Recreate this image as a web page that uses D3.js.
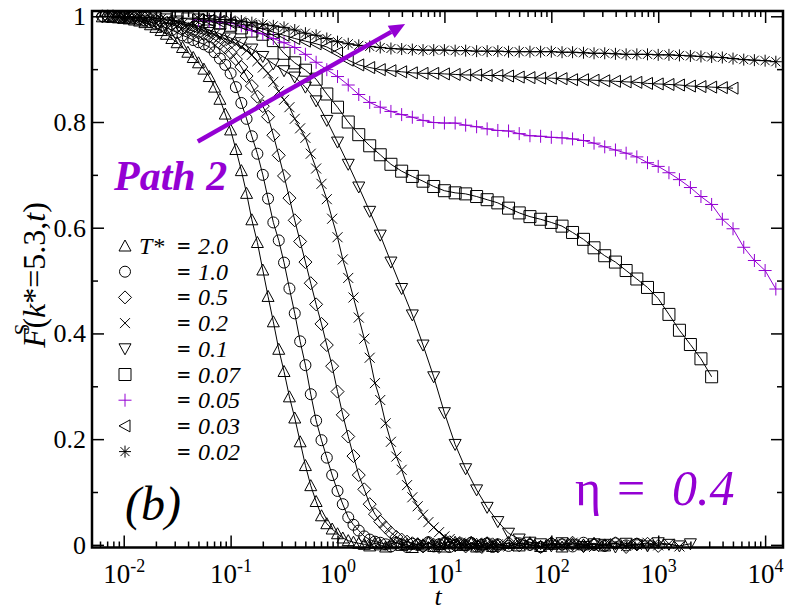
<!DOCTYPE html>
<html>
<head>
<meta charset="utf-8">
<script src="https://cdn.jsdelivr.net/npm/d3@7"></script>
<style>
  body { margin: 0; background: #fff; }
</style>
</head>
<body>
<script>
// sampling times: fine grid (0.05 decade) up to t~30, coarse grid (0.1 decade), long-time tail
const tFine = [0.00501, 0.00562, 0.00631, 0.00708, 0.00794, 0.00891, 0.0100, 0.0112, 0.0126, 0.0141,
  0.0158, 0.0178, 0.0200, 0.0224, 0.0251, 0.0282, 0.0316, 0.0355, 0.0398, 0.0447,
  0.0501, 0.0562, 0.0631, 0.0708, 0.0794, 0.0891, 0.100, 0.112, 0.126, 0.141,
  0.158, 0.178, 0.200, 0.224, 0.251, 0.282, 0.316, 0.355, 0.398, 0.447,
  0.501, 0.562, 0.631, 0.708, 0.794, 0.891, 1.00, 1.12, 1.26, 1.41,
  1.58, 1.78, 2.00, 2.24, 2.51, 2.82, 3.16, 3.55, 3.98, 4.47,
  5.01, 5.62, 6.31, 7.08, 7.94, 8.91, 10.0, 11.2, 12.6, 14.1,
  15.8, 17.8, 20.0, 22.4, 25.1, 28.2, 31.6];
const tCoarse = [0.00501, 0.00631, 0.00794, 0.0100, 0.0126, 0.0158, 0.0200, 0.0251, 0.0316, 0.0398,
  0.0501, 0.0631, 0.0794, 0.100, 0.126, 0.158, 0.200, 0.251, 0.316, 0.398,
  0.501, 0.631, 0.794, 1.00, 1.26, 1.58, 2.00, 2.51, 3.16, 3.98,
  5.01, 6.31, 7.94, 10.0, 12.6, 15.8, 20.0, 25.1, 31.6];
const tLong = [39.8, 50.1, 63.1, 79.4, 100, 126, 158, 200, 251, 316,
  398, 501, 631, 794, 1000, 1260, 1580, 2000, 2510, 3160,
  3980, 5010, 6310, 7940, 10000, 12600];

// F^S(k*=5.3,t) for each temperature
const F20 = [0.999, 0.999, 0.998, 0.997, 0.996, 0.995, 0.993, 0.991, 0.988, 0.984,
  0.979, 0.973, 0.966, 0.958, 0.950, 0.941, 0.932, 0.922, 0.912, 0.900,
  0.886, 0.866, 0.843, 0.815, 0.785, 0.748, 0.708, 0.665, 0.615, 0.572,
  0.520, 0.470, 0.422, 0.370, 0.328, 0.280, 0.240, 0.195, 0.150, 0.112,
  0.082, 0.055, 0.040, 0.030, 0.021, 0.013, 0.008, 0.005, 0.003, 0.001,
  -0.002, 0.003, 0.000, -0.004, 0.002, 0.005, -0.001, 0.001, -0.005, 0.002,
  0.000, 0.004, -0.003, 0.001, -0.004, 0.002, 0.005, -0.001, 0.000, 0.003,
  -0.004, 0.001, 0.004, -0.003, 0.000,
  0.003, -0.002, 0.004, -0.003, 0.001, -0.004, 0.002, 0.000, 0.003, -0.002];
const F10 = [1.000, 0.999, 0.999, 0.998, 0.998, 0.997, 0.996, 0.994, 0.992, 0.989,
  0.986, 0.982, 0.978, 0.974, 0.969, 0.964, 0.960, 0.955, 0.951, 0.947,
  0.942, 0.932, 0.920, 0.908, 0.892, 0.866, 0.836, 0.806, 0.773, 0.740,
  0.700, 0.655, 0.610, 0.576, 0.534, 0.485, 0.438, 0.385, 0.340, 0.285,
  0.235, 0.198, 0.165, 0.132, 0.102, 0.077, 0.052, 0.038, 0.027, 0.016,
  0.010, 0.006, 0.004, 0.001, -0.003, 0.004, 0.001, -0.004, 0.002, 0.000,
  -0.002, 0.005, -0.003, 0.001, 0.004, -0.004, 0.000, 0.003, -0.001, 0.004,
  -0.003, 0.000, 0.003, -0.004, 0.001,
  -0.002, 0.003, 0.000, -0.004, 0.002, 0.001, -0.003, 0.004, 0.000, -0.002, 0.003, -0.001, 0.002];
const F05 = [1.000, 1.000, 1.000, 0.999, 0.999, 0.998, 0.998, 0.997, 0.996, 0.994,
  0.992, 0.990, 0.987, 0.984, 0.981, 0.978, 0.975, 0.972, 0.969, 0.966,
  0.962, 0.956, 0.949, 0.941, 0.931, 0.919, 0.904, 0.887, 0.868, 0.848,
  0.830, 0.810, 0.775, 0.737, 0.698, 0.656, 0.614, 0.574, 0.535, 0.495,
  0.455, 0.418, 0.378, 0.338, 0.290, 0.246, 0.205, 0.168, 0.132, 0.105,
  0.077, 0.058, 0.044, 0.033, 0.023, 0.015, 0.010, 0.006, 0.003, 0.001,
  -0.003, 0.004, 0.000, -0.004, 0.002, 0.005, -0.001, 0.001, -0.003, 0.004,
  0.000, -0.004, 0.002, 0.001, -0.003,
  0.004, -0.001, 0.001, -0.004, 0.003, 0.000, 0.004, -0.002, 0.001, -0.001, 0.003, -0.004, 0.001, 0.002, -0.002];
const F02 = [1.000, 1.000, 0.999, 0.999, 0.999, 0.998, 0.998, 0.997, 0.996, 0.995,
  0.993, 0.991, 0.989, 0.986, 0.983, 0.980, 0.977, 0.973, 0.969, 0.965,
  0.961, 0.957, 0.953, 0.948, 0.942, 0.935, 0.927, 0.915, 0.903, 0.892,
  0.876, 0.858, 0.842, 0.828, 0.806, 0.788, 0.770, 0.740, 0.712, 0.683,
  0.654, 0.617, 0.582, 0.540, 0.505, 0.468, 0.430, 0.390, 0.354, 0.306,
  0.274, 0.230, 0.195, 0.167, 0.142, 0.113, 0.090, 0.073, 0.057, 0.043,
  0.033, 0.024, 0.016, 0.011, 0.007, 0.004, 0.002, -0.002, 0.004, 0.000,
  -0.004, 0.003, 0.001,
  -0.003, 0.004, 0.000, -0.003, 0.002, -0.001, 0.004, 0.000, -0.004, 0.001, 0.003, -0.002, 0.000, 0.004, -0.001, 0.002, -0.003];
const F01 = [1.000, 0.999, 0.998, 0.997, 0.995, 0.991, 0.987, 0.981, 0.974, 0.967,
  0.959, 0.950, 0.938, 0.924, 0.910, 0.897, 0.885, 0.866, 0.840, 0.803,
  0.762, 0.720, 0.677, 0.631, 0.586, 0.535, 0.485, 0.435, 0.378, 0.318,
  0.250, 0.190, 0.144, 0.104, 0.071, 0.044,
  0.022, 0.011, 0.005, 0.002, -0.002, 0.004, 0.000, -0.003, 0.002, 0.001,
  -0.004, 0.003, 0.000, -0.002, 0.004, 0.001, -0.002, 0.002];
const F007 = [0.998, 0.997, 0.995, 0.993, 0.990, 0.987, 0.983, 0.978, 0.972, 0.966,
  0.954, 0.930, 0.912, 0.898, 0.881, 0.853, 0.828, 0.800, 0.776, 0.755,
  0.738, 0.720, 0.707, 0.697, 0.688, 0.678, 0.670, 0.666, 0.664, 0.659,
  0.653, 0.647,
  0.637, 0.628, 0.621, 0.616, 0.610, 0.603, 0.591, 0.578, 0.562, 0.547,
  0.535, 0.519, 0.503, 0.487, 0.466, 0.436, 0.406, 0.379, 0.352, 0.318];
const F005 = [0.993, 0.991, 0.989, 0.987, 0.982, 0.973, 0.967, 0.958, 0.950, 0.941,
  0.928, 0.913, 0.899, 0.886, 0.870, 0.852, 0.837, 0.828, 0.820, 0.814,
  0.809, 0.803, 0.799, 0.798, 0.798, 0.794, 0.791, 0.787, 0.784,
  0.783, 0.778, 0.774, 0.773, 0.771, 0.770, 0.768, 0.765, 0.760, 0.753,
  0.747, 0.741, 0.734, 0.723, 0.716, 0.704, 0.691, 0.676, 0.659, 0.644,
  0.616, 0.598, 0.563, 0.538, 0.519, 0.484];
const F003 = [0.994, 0.992, 0.990, 0.988, 0.985, 0.981, 0.976, 0.970, 0.964, 0.958,
  0.953, 0.948, 0.942, 0.931, 0.917, 0.908, 0.903, 0.899, 0.897, 0.895,
  0.893, 0.892, 0.892, 0.891, 0.890, 0.889, 0.889, 0.888, 0.888,
  0.887, 0.885, 0.884, 0.883, 0.883, 0.882, 0.880, 0.880, 0.879, 0.878,
  0.877, 0.876, 0.875, 0.873, 0.872, 0.871, 0.870, 0.868, 0.867, 0.866,
  0.865, 0.864];
const F002 = [0.996, 0.995, 0.994, 0.993, 0.991, 0.988, 0.985, 0.982, 0.979, 0.974,
  0.968, 0.964, 0.958, 0.952, 0.948, 0.945, 0.943, 0.941, 0.939, 0.938,
  0.937, 0.936, 0.936, 0.936, 0.935, 0.935, 0.934, 0.934, 0.934,
  0.933, 0.933, 0.933, 0.933, 0.933, 0.932, 0.932, 0.931, 0.930, 0.930,
  0.929, 0.928, 0.928, 0.928, 0.927, 0.927, 0.926, 0.925, 0.924, 0.923,
  0.922, 0.920, 0.918, 0.917, 0.916, 0.914];

const temps = ["2.0", "1.0", "0.5", "0.2", "0.1", "0.07", "0.05", "0.03", "0.02"];
const xMajor = [0.01, 0.1, 1, 10, 100, 1000, 10000];
const xExp = ["-2", "-1", "0", "1", "2", "3", "4"];
const yMajor = [0, 0.2, 0.4, 0.6, 0.8, 1.0];
const yMinor = [0.1, 0.3, 0.5, 0.7, 0.9];

const purple = "#9400d3";
const FONT = "'Liberation Serif', 'DejaVu Serif', 'Times New Roman', Times, serif";

// symbol outlines (pixel units)
const symbols = {
  triUp: "M0,-6L6,5L-6,5Z",
  circle: "M5.5,0A5.5,5.5 0 1,1 -5.5,0A5.5,5.5 0 1,1 5.5,0Z",
  diamond: "M0,-6.5L6.5,0L0,6.5L-6.5,0Z",
  cross: "M-5,-5L5,5M-5,5L5,-5",
  triDown: "M0,6L6,-5L-6,-5Z",
  square: "M-6,-6H6V6H-6Z",
  plus: "M-6.5,0H6.5M0,-6.5V6.5",
  triLeft: "M-6,0L5,-6L5,6Z",
  star: "M-6,0H6M0,-6V6M-4.5,-4.5L4.5,4.5M-4.5,4.5L4.5,-4.5"
};

const fineAll = tFine.concat(tLong);
const coarseAll = tCoarse.concat(tLong);
const series = [
  { vals: F20, grid: fineAll, start: 2, sym: "triUp", color: "#000" },
  { vals: F10, grid: fineAll, start: 2, sym: "circle", color: "#000" },
  { vals: F05, grid: fineAll, start: 2, sym: "diamond", color: "#000" },
  { vals: F02, grid: fineAll, start: 4, sym: "cross", color: "#000" },
  { vals: F01, grid: coarseAll, start: 3, sym: "triDown", color: "#000" },
  { vals: F007, grid: coarseAll, start: 7, sym: "square", color: "#000" },
  { vals: F005, grid: coarseAll, start: 10, sym: "plus", color: purple },
  { vals: F003, grid: coarseAll, start: 10, sym: "triLeft", color: "#000" },
  { vals: F002, grid: coarseAll, start: 10, sym: "star", color: "#000" }
];

const width = 792, height = 612;
const pLeft = 92, pRight = 783, pTop = 11, pBottom = 547.5;

const svg = d3.select("body").append("svg")
    .attr("width", width)
    .attr("height", height)
    .attr("font-family", FONT);

const x = d3.scaleLog().domain([0.00505, 14700]).range([pLeft, pRight]);
const y = d3.scaleLinear().domain([-0.005, 1.01]).range([pBottom, pTop]);

// minor x ticks: 2..9 in every decade that falls in the domain
let xMinor = [];
[0.001, 0.01, 0.1, 1, 10, 100, 1000, 10000].forEach(dec => {
    for (let m = 2; m <= 9; m++) {
        let v = dec * m;
        if (v > x.domain()[0] && v < x.domain()[1]) xMinor.push(v);
    }
});

function tickStyle(g) {
    g.attr("font-family", FONT);
    g.select(".domain").remove();
    g.selectAll(".tick line").attr("stroke", "#000").attr("stroke-width", 1.5);
}

// bottom / top axes
svg.append("g").attr("transform", `translate(0,${pBottom})`)
    .call(d3.axisBottom(x).tickValues(xMinor).tickSizeInner(-6).tickSizeOuter(0).tickFormat(""))
    .call(tickStyle);
let xb = svg.append("g").attr("transform", `translate(0,${pBottom})`)
    .call(d3.axisBottom(x).tickValues(xMajor).tickSizeInner(-12).tickSizeOuter(0).tickFormat(""))
    .call(tickStyle);
xb.selectAll(".tick text").remove();
xb.selectAll(".tick").append("text")
    .attr("y", 35)
    .attr("text-anchor", "middle")
    .attr("fill", "#000")
    .attr("font-family", FONT)
    .attr("font-size", 27)
    .each(function (d, i) {
        let t = d3.select(this);
        t.append("tspan").text("10");
        t.append("tspan").attr("dy", -11).attr("font-size", 18).text(xExp[i]);
    });
svg.append("g").attr("transform", `translate(0,${pTop})`)
    .call(d3.axisTop(x).tickValues(xMinor).tickSizeInner(-6).tickSizeOuter(0).tickFormat(""))
    .call(tickStyle);
svg.append("g").attr("transform", `translate(0,${pTop})`)
    .call(d3.axisTop(x).tickValues(xMajor).tickSizeInner(-12).tickSizeOuter(0).tickFormat(""))
    .call(tickStyle);

// left / right axes
svg.append("g").attr("transform", `translate(${pLeft},0)`)
    .call(d3.axisLeft(y).tickValues(yMinor).tickSizeInner(-6).tickSizeOuter(0).tickFormat(""))
    .call(tickStyle);
svg.append("g").attr("transform", `translate(${pLeft},0)`)
    .call(d3.axisLeft(y).tickValues(yMajor).tickSizeInner(-12).tickSizeOuter(0).tickPadding(6)
        .tickFormat(d => (d === 0 || d === 1) ? String(d) : d.toFixed(1)))
    .call(tickStyle)
    .attr("font-size", 26)
    .selectAll(".tick text").attr("fill", "#000").attr("font-family", FONT);
svg.append("g").attr("transform", `translate(${pRight},0)`)
    .call(d3.axisRight(y).tickValues(yMinor).tickSizeInner(-6).tickSizeOuter(0).tickFormat(""))
    .call(tickStyle);
svg.append("g").attr("transform", `translate(${pRight},0)`)
    .call(d3.axisRight(y).tickValues(yMajor).tickSizeInner(-12).tickSizeOuter(0).tickFormat(""))
    .call(tickStyle);

// curves
let line = d3.line().x(d => x(d.t)).y(d => y(d.f));
series.forEach(s => {
    let pts = s.vals.map((f, i) => ({ t: s.grid[s.start + i], f: f })).filter(d => d.t !== undefined);
    svg.append("path")
        .datum(pts)
        .attr("d", line)
        .attr("fill", "none")
        .attr("stroke", s.color)
        .attr("stroke-width", 1);
    svg.append("g").selectAll("path")
        .data(pts).enter()
        .append("path")
        .attr("transform", d => `translate(${x(d.t)},${y(d.f)})`)
        .attr("d", symbols[s.sym])
        .attr("fill", "none")
        .attr("stroke", s.color)
        .attr("stroke-width", 1);
});

// frame
svg.append("rect")
    .attr("x", pLeft).attr("y", pTop)
    .attr("width", pRight - pLeft).attr("height", pBottom - pTop)
    .attr("fill", "none").attr("stroke", "#000").attr("stroke-width", 2.5);

// legend: one text per row, symbol on the left
let legend = svg.append("g").attr("font-family", FONT).attr("font-size", 24);
series.forEach((s, i) => {
    let ry = 246 + i * 25.7;
    legend.append("path")
        .attr("transform", `translate(125,${ry})`)
        .attr("d", symbols[s.sym])
        .attr("fill", "none").attr("stroke", s.color).attr("stroke-width", 1);
    let row = legend.append("text").attr("y", ry + 8);
    if (i === 0) row.append("tspan").attr("x", 139).attr("font-style", "italic").text("T*");
    row.append("tspan").attr("x", 177).attr("font-weight", "bold").text("=");
    row.append("tspan").attr("x", 198).attr("font-style", "italic").text(temps[i]);
});

// axis titles
let yt = svg.append("text")
    .attr("transform", "translate(45,275) rotate(-90)")
    .attr("text-anchor", "middle")
    .attr("font-family", FONT)
    .attr("font-size", 32);
yt.append("tspan").attr("font-style", "italic").text("F");
yt.append("tspan").attr("font-size", 21).attr("dx", -7).attr("dy", -16).text("S");
yt.append("tspan").attr("dx", -5).attr("dy", 16).text("(");
yt.append("tspan").attr("font-style", "italic").text("k");
yt.append("tspan").text("*=5.3,");
yt.append("tspan").attr("font-style", "italic").text("t");
yt.append("tspan").text(")");

svg.append("text")
    .attr("x", 438).attr("y", 605)
    .attr("text-anchor", "middle")
    .attr("font-family", FONT)
    .attr("font-size", 26).attr("font-style", "italic")
    .text("t");

// annotations
svg.append("text")
    .attr("x", 125).attr("y", 520)
    .attr("font-family", FONT)
    .attr("font-size", 48).attr("font-style", "italic")
    .text("(b)");

svg.append("text")
    .attr("x", 114).attr("y", 190)
    .attr("font-family", FONT)
    .attr("font-size", 42).attr("font-style", "italic").attr("font-weight", "bold")
    .attr("fill", purple)
    .text("Path 2");

let eta = svg.append("text").attr("y", 505).attr("font-family", FONT)
    .attr("font-size", 50).attr("fill", purple);
eta.append("tspan").attr("x", 575).text("η");
eta.append("tspan").attr("x", 617).text("=");
eta.append("tspan").attr("x", 672).attr("font-style", "italic").text("0.4");

// arrow along the cooling path
let a0 = [x(0.0493), y(0.763)], a1 = [x(4.29), y(0.9855)];
let ang = Math.atan2(a1[1] - a0[1], a1[0] - a0[0]);
let headLen = 16, headW = 7;
let base = [a1[0] - headLen * Math.cos(ang), a1[1] - headLen * Math.sin(ang)];
svg.append("line")
    .attr("x1", a0[0]).attr("y1", a0[1])
    .attr("x2", base[0]).attr("y2", base[1])
    .attr("stroke", purple).attr("stroke-width", 4.5);
svg.append("path")
    .attr("d", `M${a1[0]},${a1[1]}L${base[0] + headW * Math.sin(ang)},${base[1] - headW * Math.cos(ang)}L${base[0] - headW * Math.sin(ang)},${base[1] + headW * Math.cos(ang)}Z`)
    .attr("fill", purple);
</script>
</body>
</html>
